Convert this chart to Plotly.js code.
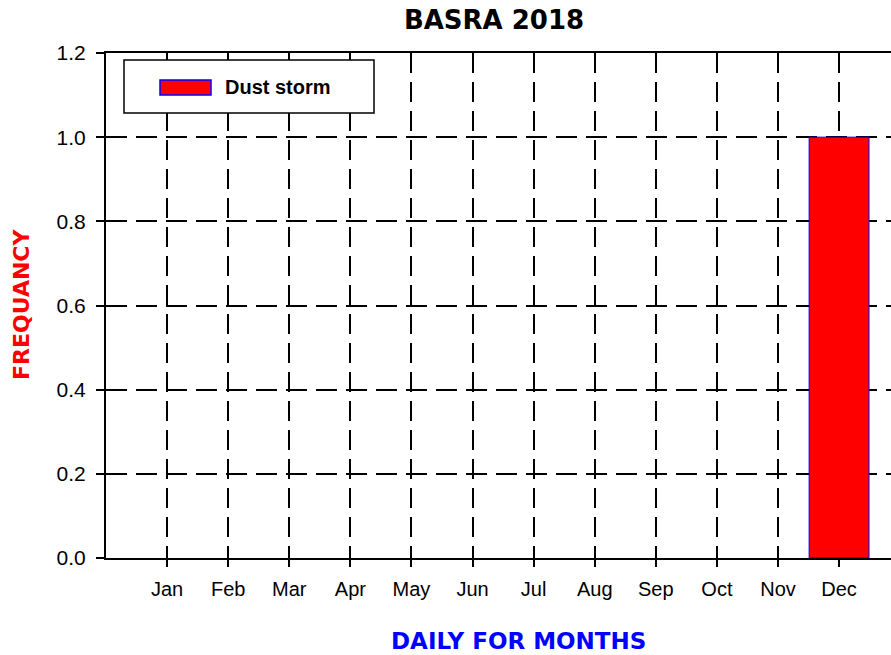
<!DOCTYPE html>
<html>
<head>
<meta charset="utf-8">
<script src="https://cdn.plot.ly/plotly-3.0.1.min.js"></script>
<style>
html, body { margin: 0; padding: 0; background: #fff; overflow: hidden; }
#chart { width: 891px; height: 655px; }
</style>
</head>
<body>
<div id="chart"></div>
<script>
const months = ["Jan","Feb","Mar","Apr","May","Jun","Jul","Aug","Sep","Oct","Nov","Dec"];
const dustStorm = [0,0,0,0,0,0,0,0,0,0,0,1.0];
const seriesName = "Dust storm";
const chartTitle = "BASRA 2018";
const xTitle = "DAILY FOR MONTHS";
const yTitle = "FREQUANCY";
const yTicks = [0, 0.2, 0.4, 0.6, 0.8, 1.0, 1.2];
const yTickText = ["0.0","0.2","0.4","0.6","0.8","1.0","1.2"];

// plot area in pixels
const L = 106, R = 891, T = 53, B = 558;
const px = v => (v - L) / (R - L);
const py = v => (B - v) / (B - T);

const trace = {
  type: 'bar',
  x: months,
  y: dustStorm,
  name: seriesName,
  width: 0.98,
  marker: {
    color: '#ff0000',
    line: { color: '#0000ff', width: dustStorm.map(v => (v > 0 ? 1 : 0)) }
  },
  showlegend: false,
  hoverinfo: 'x+y'
};

const layout = {
  width: 891, height: 655,
  margin: { l: L, r: 891 - R, t: T, b: 655 - B, pad: 0 },
  paper_bgcolor: '#fff', plot_bgcolor: '#fff',
  font: { family: '"Liberation Sans", Arial, sans-serif', color: '#000', size: 20 },
  title: {
    text: chartTitle,
    font: { family: '"DejaVu Sans", sans-serif', size: 26, color: '#000', weight: 'bold' },
    xref: 'container', yref: 'container',
    x: 494 / 891, xanchor: 'center',
    y: 1 - 20 / 655, yanchor: 'middle'
  },
  xaxis: {
    type: 'category',
    categoryorder: 'array', categoryarray: months,
    range: [-1, 11.85],
    showline: true, linecolor: '#000', linewidth: 2, mirror: true,
    ticks: 'outside', ticklen: 7, tickwidth: 1.5, tickcolor: '#000',
    ticklabelstandoff: 5,
    showgrid: true, gridcolor: '#000', gridwidth: 1.5, griddash: '20px,9px',
    tickfont: { size: 20, color: '#000' },
    zeroline: false,
    fixedrange: true
  },
  yaxis: {
    range: [0, 1.2],
    tickvals: yTicks, ticktext: yTickText,
    showline: true, linecolor: '#000', linewidth: 2, mirror: false,
    ticks: 'outside', ticklen: 8, tickwidth: 1.5, tickcolor: '#000',
    ticklabelstandoff: 6,
    showgrid: true, gridcolor: '#000', gridwidth: 1.5, griddash: '21px,9px',
    tickfont: { size: 21, color: '#000' },
    zeroline: false,
    fixedrange: true
  },
  shapes: [
    { type: 'rect', xref: 'paper', yref: 'paper', layer: 'above',
      x0: px(124), x1: px(374), y0: py(113), y1: py(60),
      fillcolor: '#fff', line: { color: '#000', width: 1.5 } },
    { type: 'rect', xref: 'paper', yref: 'paper', layer: 'above',
      x0: px(160), x1: px(211), y0: py(95), y1: py(80),
      fillcolor: '#ff0000', line: { color: '#0000ff', width: 1.5 } }
  ],
  annotations: [
    { text: seriesName, xref: 'paper', yref: 'paper', x: px(223), y: py(87),
      xanchor: 'left', yanchor: 'middle', showarrow: false,
      font: { family: '"Liberation Sans", Arial, sans-serif', size: 20, color: '#000', weight: 'bold' } },
    { text: xTitle, xref: 'paper', yref: 'paper', x: px(518), y: py(641),
      xanchor: 'center', yanchor: 'middle', showarrow: false,
      font: { family: '"DejaVu Sans", sans-serif', size: 23, color: '#0000ff', weight: 'bold' } },
    { text: yTitle, xref: 'paper', yref: 'paper', x: px(21), y: py(305),
      xanchor: 'center', yanchor: 'middle', showarrow: false, textangle: -90,
      font: { family: '"DejaVu Sans", sans-serif', size: 22, color: '#ff0000', weight: 'bold' } }
  ]
};

Plotly.newPlot('chart', [trace], layout, { displayModeBar: false });
</script>
</body>
</html>
